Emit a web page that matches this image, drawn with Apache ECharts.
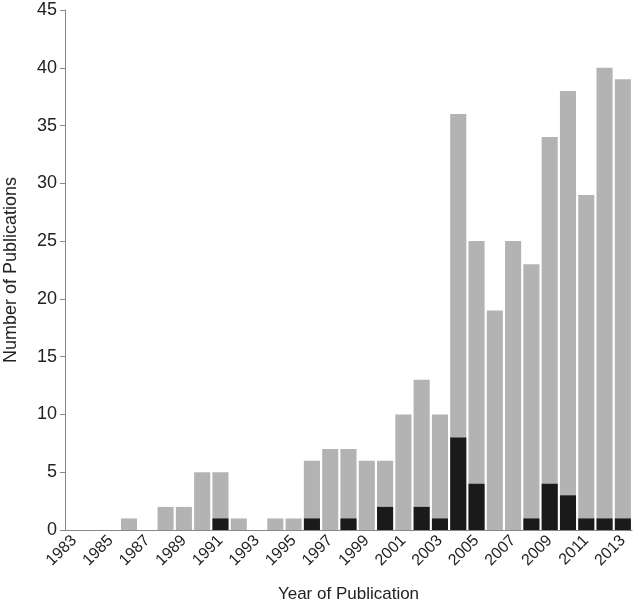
<!DOCTYPE html>
<html lang="en">
<head>
    <meta charset="UTF-8">
    <title>Publications per year</title>
    <script src="https://cdn.jsdelivr.net/npm/echarts@6/dist/echarts.min.js"></script>
    <style>
        html, body { margin: 0; padding: 0; background: #fff; }
        #chart { width: 634px; height: 605px; }
    </style>
</head>
<body>
    <div id="chart"></div>
    <script>
        // years on the x axis
        const years = [];
        for (let y = 1983; y <= 2013; y++) years.push(String(y));

        // all publications per year (grey)
        const totalPubs = [0, 0, 0, 1, 0, 2, 2, 5, 5, 1, 0, 1, 1, 6, 7, 7, 6, 6, 10, 13, 10, 36, 25, 19, 25, 23, 34, 38, 29, 40, 39];
        // subset per year (black)
        const subsetPubs = [0, 0, 0, 0, 0, 0, 0, 0, 1, 0, 0, 0, 0, 1, 0, 1, 0, 2, 0, 2, 1, 8, 4, 0, 0, 1, 4, 3, 1, 1, 1];

        const font = "'Liberation Sans', Arial, sans-serif";
        const chart = echarts.init(document.getElementById('chart'));

        chart.setOption({
            animation: false,
            grid: { left: 65, right: 2, top: 10, bottom: 75, containLabel: false, outerBoundsMode: 'none' },
            xAxis: {
                type: 'category',
                data: years,
                name: 'Year of Publication',
                nameLocation: 'middle',
                nameGap: 56,
                nameTextStyle: { fontFamily: font, fontSize: 17, color: '#222' },
                axisLine: { lineStyle: { color: '#888' } },
                axisTick: { interval: 0, length: 6, lineStyle: { color: '#888' } },
                axisLabel: { interval: 1, rotate: 45, fontFamily: font, fontSize: 16, color: '#222', margin: 8 }
            },
            yAxis: {
                type: 'value',
                min: 0,
                max: 45,
                interval: 5,
                name: 'Number of Publications',
                nameLocation: 'middle',
                nameGap: 45,
                nameTextStyle: { fontFamily: font, fontSize: 18, color: '#222' },
                splitLine: { show: false },
                axisLine: { show: true, lineStyle: { color: '#888' } },
                axisTick: { show: true, length: 5, lineStyle: { color: '#888' } },
                axisLabel: { fontFamily: font, fontSize: 18, color: '#222', margin: 8 }
            },
            series: [
                {
                    type: 'bar',
                    data: totalPubs,
                    barCategoryGap: '12%',
                    barGap: '-100%',
                    itemStyle: { color: '#b3b3b3' }
                },
                {
                    type: 'bar',
                    data: subsetPubs,
                    barCategoryGap: '12%',
                    barGap: '-100%',
                    itemStyle: { color: '#1a1a1a' }
                }
            ]
        });
    </script>
</body>
</html>
